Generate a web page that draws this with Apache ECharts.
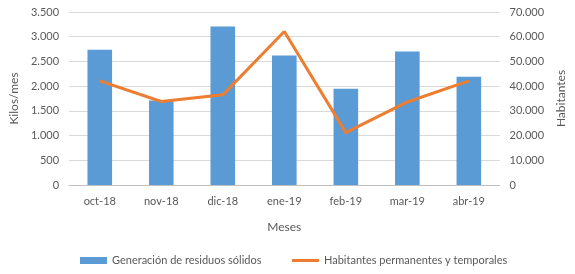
<!DOCTYPE html>
<html>
<head>
<meta charset="utf-8">
<script src="https://cdn.jsdelivr.net/npm/echarts@6/dist/echarts.min.js"></script>
<style>html,body{margin:0;padding:0;background:#fff}#c{width:575px;height:274px}</style>
</head>
<body>
<div id="c"></div>
<script>
const categories = ['oct-18','nov-18','dic-18','ene-19','feb-19','mar-19','abr-19'];
const residuos = [2735, 1708, 3208, 2621, 1946, 2702, 2189];
const habitantes = [42150, 33770, 36480, 62140, 21200, 33600, 42100];
const leftTicks = {min: 0, max: 3500, interval: 500};
const rightTicks = {min: 0, max: 70000, interval: 10000};

const fmt = v => String(v).replace(/\B(?=(\d{3})+(?!\d))/g, '.');
const font = 'Lato';
const txt = '#595959';
const chart = echarts.init(document.getElementById('c'), null, {renderer: 'canvas'});
chart.setOption({
  animation: false,
  textStyle: {fontFamily: font},
  grid: {left: 67, right: 72, top: 12, bottom: 89},
  legend: [
    {data: [{name: 'Generación de residuos sólidos', icon: 'rect'}], left: 75, top: 250, itemWidth: 27, itemHeight: 7,
     textStyle: {color: txt, fontSize: 11, fontFamily: font}},
    {data: [{name: 'Habitantes permanentes y temporales', icon: 'rect'}], left: 287, top: 250, itemWidth: 27, itemHeight: 3,
     textStyle: {color: txt, fontSize: 11, fontFamily: font}}
  ],
  xAxis: {
    type: 'category', data: categories,
    name: 'Meses', nameLocation: 'middle', nameGap: 36,
    nameTextStyle: {color: txt, fontSize: 12, fontFamily: font},
    axisLine: {lineStyle: {color: '#bfbfbf', width: 1}},
    axisTick: {show: false},
    axisLabel: {color: txt, fontSize: 11, margin: 11, fontFamily: font}
  },
  yAxis: [
    {type: 'value', min: leftTicks.min, max: leftTicks.max, interval: leftTicks.interval,
     name: 'Kilos/mes', nameLocation: 'middle', nameGap: 47, nameRotate: 90,
     nameTextStyle: {color: txt, fontSize: 12, fontFamily: font},
     axisLine: {show: false}, axisTick: {show: false},
     axisLabel: {color: txt, fontSize: 11, margin: 10, formatter: fmt, fontFamily: font},
     splitLine: {lineStyle: {color: '#d9d9d9', width: 1}}},
    {type: 'value', min: rightTicks.min, max: rightTicks.max, interval: rightTicks.interval,
     name: 'Habitantes', nameLocation: 'middle', nameGap: 54, nameRotate: 90,
     nameTextStyle: {color: txt, fontSize: 12, fontFamily: font},
     axisLine: {show: false}, axisTick: {show: false},
     axisLabel: {color: txt, fontSize: 11, margin: 10, formatter: fmt, fontFamily: font},
     splitLine: {show: false}}
  ],
  series: [
    {name: 'Generación de residuos sólidos', type: 'bar', data: residuos, yAxisIndex: 0,
     barWidth: '40%', itemStyle: {color: '#5b9bd5'}},
    {name: 'Habitantes permanentes y temporales', type: 'line', data: habitantes, yAxisIndex: 1,
     symbol: 'none', lineStyle: {color: '#ed7d31', width: 3}, itemStyle: {color: '#ed7d31'}}
  ]
});
</script>
</body>
</html>
